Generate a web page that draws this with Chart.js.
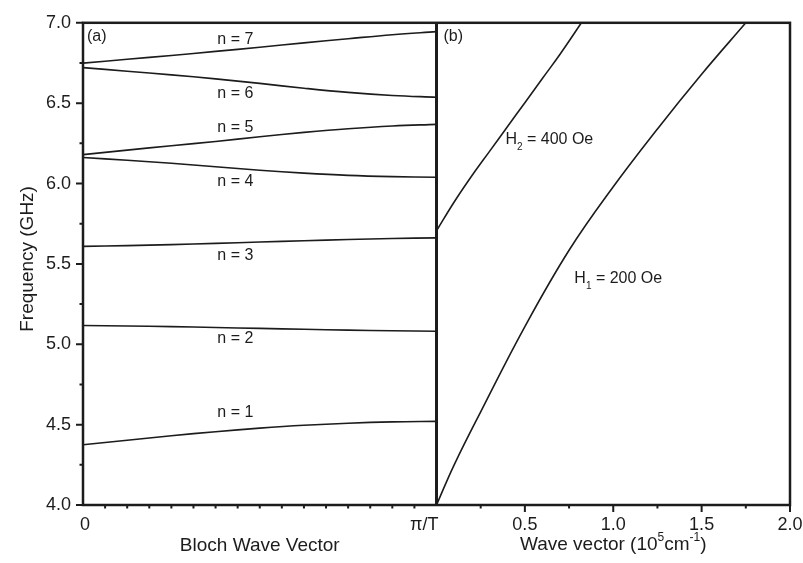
<!DOCTYPE html>
<html>
<head>
<meta charset="utf-8">
<script src="https://cdn.jsdelivr.net/npm/chart.js@4.4.1/dist/chart.umd.min.js"></script>
<style>
  html, body { margin: 0; padding: 0; background: #ffffff; }
  #wrap { width: 803px; height: 563px; }
</style>
</head>
<body>
<div id="wrap"><canvas id="c" width="803" height="563"></canvas></div>
<script>
// ---- Panel (a): Bloch bands, k given as a fraction of the zone edge pi/T ----
const blochK = [0, 0.125, 0.25, 0.375, 0.5, 0.625, 0.75, 0.875, 1];
const band1 = [4.375, 4.403, 4.431, 4.456, 4.478, 4.496, 4.509, 4.517, 4.520];
const band2 = [5.117, 5.114, 5.110, 5.104, 5.099, 5.093, 5.088, 5.084, 5.081];
const band3 = [5.609, 5.614, 5.620, 5.628, 5.636, 5.644, 5.652, 5.658, 5.662];
const band4 = [6.162, 6.145, 6.126, 6.104, 6.083, 6.065, 6.051, 6.043, 6.039];
const band5 = [6.180, 6.208, 6.235, 6.262, 6.291, 6.318, 6.341, 6.358, 6.368];
const band6 = [6.721, 6.699, 6.676, 6.651, 6.623, 6.593, 6.567, 6.548, 6.537];
const band7 = [6.749, 6.773, 6.797, 6.822, 6.848, 6.875, 6.901, 6.926, 6.945];
const bandNames = ['n = 1', 'n = 2', 'n = 3', 'n = 4', 'n = 5', 'n = 6', 'n = 7'];

// ---- Panel (b): uniform film dispersion, wave vector in 10^5 cm^-1 ----
const waveH2 = [0, 0.1, 0.2, 0.3, 0.4, 0.5, 0.6, 0.7, 0.82];
const freqH2 = [5.706, 5.885, 6.048, 6.200, 6.352, 6.503, 6.655, 6.806, 7.0];
const waveH1 = [0, 0.1, 0.25, 0.5, 0.75, 1.0, 1.25, 1.5, 1.75];
const freqH1 = [4.0, 4.25, 4.58, 5.11, 5.585, 5.98, 6.34, 6.68, 7.0];

// ---- Axis ticks ----
const freqTicks = [4.0, 4.5, 5.0, 5.5, 6.0, 6.5, 7.0];
const blochTicks = [0, 1];
const blochTickLabels = ['0', 'π/T'];
const waveTicks = [0.5, 1.0, 1.5, 2.0];

const INK = '#1c1c1c';
const FONT = '"Liberation Sans", Arial, Helvetica, sans-serif';

const bands = [band1, band2, band3, band4, band5, band6, band7];

function lineSet(xs, ys, axis) {
  return {
    data: xs.map((x, i) => ({ x: x, y: ys[i] })),
    xAxisID: axis,
    yAxisID: 'y',
    borderColor: INK,
    borderWidth: 1.6,
    pointRadius: 0,
    fill: false,
    tension: 0.4
  };
}

const datasets = bands.map(b => lineSet(blochK, b, 'xa'))
  .concat([lineSet(waveH2, freqH2, 'xb'), lineSet(waveH1, freqH1, 'xb')]);

// Text annotations anchored in data units of each panel
const bandLabelK = 0.38;
const bandLabelFreq = [4.547, 5.008, 5.524, 5.986, 6.320, 6.532, 6.866];
const fieldLabels = [
  { wave: 0.39, freq: 6.247, main: 'H', sub: '2', rest: ' = 400 Oe' },
  { wave: 0.78, freq: 5.379, main: 'H', sub: '1', rest: ' = 200 Oe' }
];

const framePlugin = {
  id: 'frameAndText',
  afterDatasetsDraw(chart) {
    const { ctx, chartArea: a, scales } = chart;
    const xa = scales.xa, xb = scales.xb, y = scales.y;
    ctx.save();
    ctx.strokeStyle = INK;
    ctx.fillStyle = INK;
    ctx.lineCap = 'butt';

    // tick marks, pointing outward
    ctx.lineWidth = 2;
    ctx.beginPath();
    for (let i = 0; i <= 12; i++) {
      const v = 4 + i * 0.25;
      const py = y.getPixelForValue(v);
      const len = (i % 2 === 0) ? 7 : 3.5;
      ctx.moveTo(a.left, py); ctx.lineTo(a.left - len, py);
    }
    for (let i = 1; i < 16; i++) {
      const px = xa.getPixelForValue(i / 16);
      ctx.moveTo(px, a.bottom); ctx.lineTo(px, a.bottom + 3.5);
    }
    for (let i = 1; i <= 8; i++) {
      const v = i * 0.25;
      const px = xb.getPixelForValue(v);
      const len = (i % 2 === 0) ? 7 : 3.5;
      ctx.moveTo(px, a.bottom); ctx.lineTo(px, a.bottom + len);
    }
    ctx.stroke();

    // frame and panel divider
    ctx.lineWidth = 2.5;
    ctx.strokeRect(a.left, a.top, a.right - a.left, a.bottom - a.top);
    ctx.lineWidth = 3;
    ctx.beginPath();
    ctx.moveTo(xa.right, a.top); ctx.lineTo(xa.right, a.bottom);
    ctx.stroke();

    // bottom tick labels
    ctx.font = '18px ' + FONT;
    ctx.textBaseline = 'alphabetic';
    const tickBase = a.bottom + 25;
    ctx.textAlign = 'center';
    ctx.fillText(blochTickLabels[0], xa.getPixelForValue(blochTicks[0]) + 2, tickBase);
    ctx.textAlign = 'right';
    ctx.fillText(blochTickLabels[1], xa.getPixelForValue(blochTicks[1]) + 2, tickBase);
    ctx.textAlign = 'center';
    waveTicks.forEach(v => ctx.fillText(v.toFixed(1), xb.getPixelForValue(v), tickBase));

    // axis titles
    ctx.font = '19px ' + FONT;
    ctx.textAlign = 'center';
    ctx.fillText('Bloch Wave Vector', (xa.left + xa.right) / 2, a.bottom + 46);

    const big = '19px ' + FONT, small = '12px ' + FONT;
    const parts = [
      { t: 'Wave vector (10', f: big, dy: 0 },
      { t: '5', f: small, dy: -9 },
      { t: 'cm', f: big, dy: 0 },
      { t: '-1', f: small, dy: -9 },
      { t: ')', f: big, dy: 0 }
    ];
    let total = 0;
    parts.forEach(p => { ctx.font = p.f; p.w = ctx.measureText(p.t).width; total += p.w; });
    let cx = (xb.left + xb.right) / 2 - total / 2;
    ctx.textAlign = 'left';
    parts.forEach(p => { ctx.font = p.f; ctx.fillText(p.t, cx, a.bottom + 45 + p.dy); cx += p.w; });

    ctx.save();
    ctx.font = big;
    ctx.textAlign = 'center';
    ctx.translate(33, (a.top + a.bottom) / 2 - 5);
    ctx.rotate(-Math.PI / 2);
    ctx.fillText('Frequency (GHz)', 0, 0);
    ctx.restore();

    // panel tags
    ctx.font = '16px ' + FONT;
    ctx.textAlign = 'left';
    ctx.fillText('(a)', xa.left + 4, a.top + 18);
    ctx.fillText('(b)', xb.left + 7, a.top + 18);

    // band labels
    bandNames.forEach((name, i) => {
      ctx.fillText(name, xa.getPixelForValue(bandLabelK), y.getPixelForValue(bandLabelFreq[i]));
    });

    // field labels with subscripts
    fieldLabels.forEach(l => {
      let px = xb.getPixelForValue(l.wave);
      const py = y.getPixelForValue(l.freq);
      ctx.font = '16px ' + FONT;
      ctx.fillText(l.main, px, py);
      px += ctx.measureText(l.main).width;
      ctx.font = '10px ' + FONT;
      ctx.fillText(l.sub, px, py + 6);
      px += ctx.measureText(l.sub).width;
      ctx.font = '16px ' + FONT;
      ctx.fillText(l.rest, px, py);
    });

    ctx.restore();
  }
};

const hiddenX = (min, max) => ({
  type: 'linear',
  position: 'bottom',
  stack: 'bottomAxis',
  stackWeight: 1,
  min: min,
  max: max,
  grid: { display: false, drawTicks: false },
  border: { display: false },
  ticks: { display: false },
  afterFit(scale) { scale.height = 58; }
});

new Chart(document.getElementById('c'), {
  type: 'line',
  data: { datasets: datasets },
  options: {
    responsive: false,
    animation: false,
    devicePixelRatio: 1,
    layout: { padding: { top: 11, right: 13, left: 0, bottom: 0 } },
    plugins: { legend: { display: false }, tooltip: { enabled: false } },
    scales: {
      xa: hiddenX(0, 1),
      xb: hiddenX(0, 2),
      y: {
        type: 'linear',
        position: 'left',
        min: 4,
        max: 7,
        grid: { display: false, drawTicks: false },
        border: { display: false },
        afterBuildTicks(scale) { scale.ticks = freqTicks.map(v => ({ value: v })); },
        afterFit(scale) { scale.width = 83; },
        ticks: {
          padding: 12,
          color: INK,
          font: { family: FONT, size: 18 },
          callback: v => Number(v).toFixed(1)
        }
      }
    }
  },
  plugins: [framePlugin]
});
</script>
</body>
</html>
